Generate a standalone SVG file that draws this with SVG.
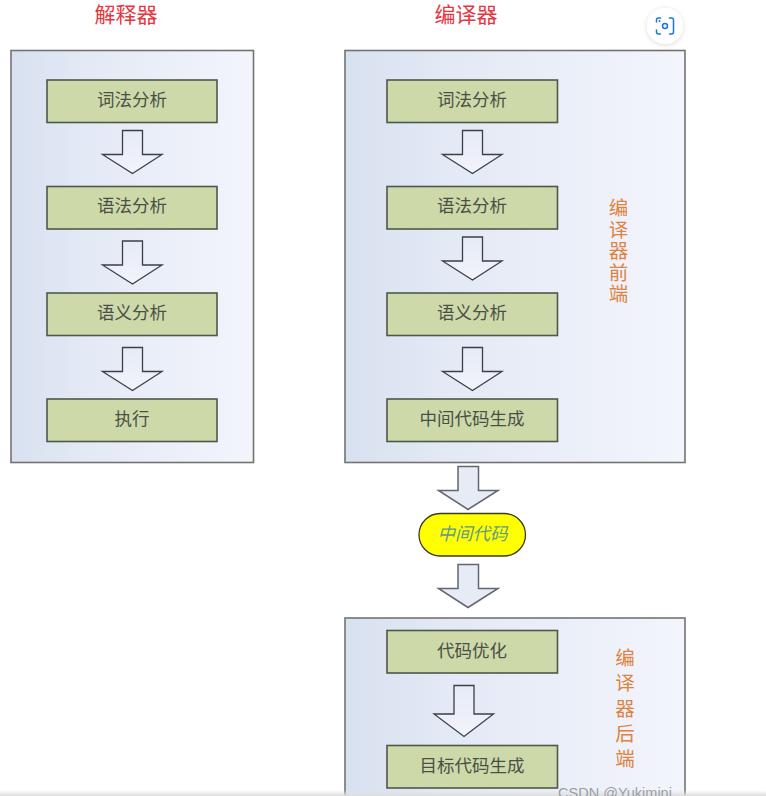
<svg xmlns="http://www.w3.org/2000/svg" width="766" height="796" viewBox="0 0 766 796">
<style>
text{font-family:"Noto Sans CJK SC","Liberation Sans",sans-serif;text-anchor:middle}
.panel{fill:url(#pg);stroke:#737373;stroke-width:1.6}
.box{fill:#cdd9a9;stroke:#50574a;stroke-width:1.6}
.boxt{font-size:17.5px;fill:#4a5046}
.ar{fill:url(#ag);stroke:#3a3f48;stroke-width:1.3}
.ar2{fill:#e6ebf6;stroke:#62666e;stroke-width:1.5}
.title{font-size:21px;fill:#e8353f}
.side{font-size:19.5px;fill:#de8340}
</style>
<defs>
<linearGradient id="pg" x1="0" y1="0" x2="1" y2="0"><stop offset="0" stop-color="#d8e1f0"/><stop offset=".3" stop-color="#e3e9f5"/><stop offset="1" stop-color="#f3f5fc"/></linearGradient>
<linearGradient id="ag" x1="0" y1="0" x2="0" y2="1"><stop offset="0" stop-color="#e6ebf6"/><stop offset="1" stop-color="#f2f4fb"/></linearGradient>
<linearGradient id="fade" x1="0" y1="0" x2="0" y2="1"><stop offset="0" stop-color="#e4e4e4" stop-opacity="0"/><stop offset="1" stop-color="#dcdcdc"/></linearGradient>
<filter id="sh" x="-30%" y="-30%" width="160%" height="160%"><feDropShadow dx="0" dy="1" stdDeviation="2.5" flood-color="#000" flood-opacity=".15"/></filter>
</defs>
<rect width="766" height="796" fill="#fff"/>
<text class="title" x="126" y="22">解释器</text>
<text class="title" x="466" y="22">编译器</text>
<g id="interpreter">
<rect class="panel" x="11" y="50.500" width="242.500" height="412"/>
<g id="i-lex"><rect class="box" x="47" y="80" width="170" height="42.500"/><text class="boxt" x="132" y="106">词法分析</text></g>
<g id="i-syn"><rect class="box" x="47" y="186.500" width="170" height="42.500"/><text class="boxt" x="132" y="212">语法分析</text></g>
<g id="i-sem"><rect class="box" x="47" y="293" width="170" height="42.500"/><text class="boxt" x="132" y="319">语义分析</text></g>
<g id="i-run"><rect class="box" x="47" y="399" width="170" height="42.500"/><text class="boxt" x="132" y="425">执行</text></g>
</g>
<g id="compiler-front">
<rect class="panel" x="345" y="50.500" width="340" height="412"/>
<g id="c-lex"><rect class="box" x="387" y="80" width="170.500" height="42.500"/><text class="boxt" x="472" y="106">词法分析</text></g>
<g id="c-syn"><rect class="box" x="387" y="186.500" width="170.500" height="42.500"/><text class="boxt" x="472" y="212">语法分析</text></g>
<g id="c-sem"><rect class="box" x="387" y="293" width="170.500" height="42.500"/><text class="boxt" x="472" y="319">语义分析</text></g>
<g id="c-ir"><rect class="box" x="387" y="399" width="170.500" height="42.500"/><text class="boxt" x="472" y="425">中间代码生成</text></g>
<text class="side"><tspan x="618.500" y="215">编</tspan><tspan x="618.500" y="236.500">译</tspan><tspan x="618.500" y="258">器</tspan><tspan x="618.500" y="279.500">前</tspan><tspan x="618.500" y="301">端</tspan></text>
</g>
<g id="ir-node"><rect x="419" y="513.500" width="106.500" height="42.500" rx="21.250" fill="#ffff00" stroke="#3a3a20" stroke-width="1.3"/><text x="472.500" y="540" font-size="17.500" font-style="italic" fill="#5f9a8a">中间代码</text></g>
<g id="compiler-back">
<rect class="panel" x="345" y="618" width="340" height="190"/>
<g id="c-opt"><rect class="box" x="387" y="630.500" width="170.500" height="42.500"/><text class="boxt" x="472" y="657">代码优化</text></g>
<g id="c-gen"><rect class="box" x="387" y="745.500" width="170.500" height="42.500"/><text class="boxt" x="472" y="772">目标代码生成</text></g>
<text class="side"><tspan x="625" y="664.500">编</tspan><tspan x="625" y="690">译</tspan><tspan x="625" y="715.500">器</tspan><tspan x="625" y="740.500">后</tspan><tspan x="625" y="766">端</tspan></text>
</g>
<g id="connectors">
<path class="ar" d="M122.500 130.500H142.500V154.500H162L132.500 173.500L102.500 154.500H122.500Z"/>
<path class="ar" d="M122.500 241H142.500V265H162L132.500 284L102.500 265H122.500Z"/>
<path class="ar" d="M122.500 347.500H142.500V371.500H162L132.500 390.500L102.500 371.500H122.500Z"/>
<path class="ar" d="M462.500 130.500H482.500V154.500H502L472.500 173.500L442.500 154.500H462.500Z"/>
<path class="ar" d="M462.500 237H482.500V261H502L472.500 280L442.500 261H462.500Z"/>
<path class="ar" d="M462.500 347.500H482.500V371.500H502L472.500 390.500L442.500 371.500H462.500Z"/>
<path class="ar2" d="M458 466.500H478.500V490.500H498L468 509.500L438.500 490.500H458Z"/>
<path class="ar2" d="M458 564.500H478.500V588.500H498L468 607.500L438.500 588.500H458Z"/>
<path class="ar" d="M454 685.500H474V714H493.500L464 736.500L434 714H454Z"/>
</g>
<rect x="0" y="790" width="766" height="6" fill="url(#fade)"/>
<text x="615" y="798" font-size="14.500" fill="#9a9fa6" style="font-family:'Liberation Sans',sans-serif">CSDN @Yukimini</text>
<g id="lens">
<circle cx="665" cy="26" r="18" fill="#fff" filter="url(#sh)"/>
<path d="M660.500 18H658.500A2 2 0 0 0 656.500 20V22M669.500 18H671.500A2 2 0 0 1 673.500 20V32A2 2 0 0 1 671.500 34H669.500M660.500 34H658.500A2 2 0 0 1 656.500 32V30" fill="none" stroke="#1a73e8" stroke-width="1.500" stroke-linecap="round"/>
<circle cx="665" cy="26" r="2.500" fill="none" stroke="#1a73e8" stroke-width="1.500"/>
<circle cx="659.500" cy="21" r="1" fill="#1a73e8"/>
</g>
</svg>
